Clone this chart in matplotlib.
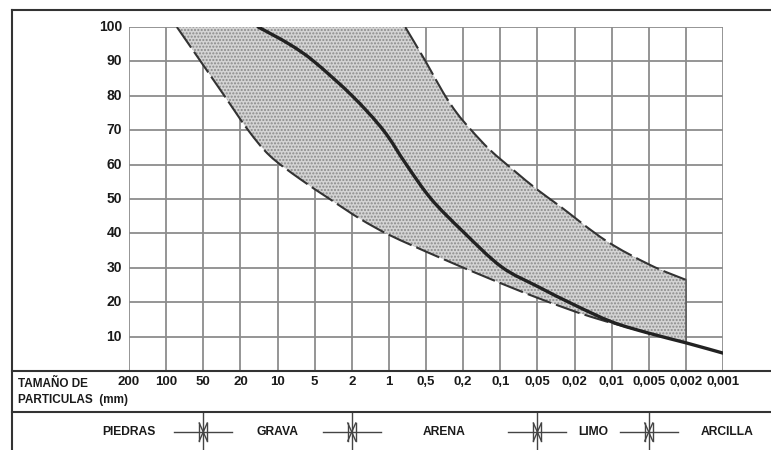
import numpy as np
import matplotlib.pyplot as plt
import matplotlib.transforms as mtransforms
from matplotlib.lines import Line2D
from matplotlib.patches import PathPatch
from matplotlib.path import Path

# particle sizes (mm), one per vertical grid line
size_labels = ['200', '100', '50', '20', '10', '5', '2', '1', '0,5', '0,2', '0,1',
               '0,05', '0,02', '0,01', '0,005', '0,002', '0,001']
pct_ticks = [10, 20, 30, 40, 50, 60, 70, 80, 90, 100]

# curves as (position on size scale, % passing)
mid_x = [3.48, 4.32, 4.98, 6.01, 6.85, 7.47, 8.14, 9.0, 10.03, 11.02, 12.0, 13.0, 14.0, 15.0, 16.0]
mid_y = [100, 95, 90, 80, 70, 60, 50, 40.5, 30.3, 24.5, 19.2, 14.3, 11.0, 8.2, 5.2]

upper_x = [7.44, 7.99, 8.46, 8.83, 9.22, 9.73, 10.4, 11.0, 11.62, 12.83, 14.04, 15.0]
upper_y = [100, 90, 81, 75, 70, 64.2, 58, 52.7, 47.8, 38, 30.8, 26.5]

lower_x = [1.29, 1.93, 2.57, 3.21, 3.8, 4.61, 5.42, 6.23, 7.04, 8.3, 9.68, 11.02, 12.43, 14.0]
lower_y = [100, 90, 80, 70, 62.5, 55.8, 49.9, 44.2, 39.4, 33.3, 27.0, 21.2, 15.8, 11.0]

soil_names = ['PIEDRAS', 'GRAVA', 'ARENA', 'LIMO', 'ARCILLA']
soil_label_x = [0.0, 4.0, 8.5, 12.5, 16.1]
soil_bounds = [2, 6, 11, 14]


def bezier_through(xs, ys):
    # Catmull-Rom style cubic segments through the given points
    p = np.column_stack([xs, ys]).astype(float)
    n = len(p)
    verts, codes = [], []
    for i in range(n - 1):
        p0 = p[max(i - 1, 0)]
        p1, p2 = p[i], p[i + 1]
        p3 = p[min(i + 2, n - 1)]
        c1 = p1 + (p2 - p0) / 6.0
        c2 = p2 - (p3 - p1) / 6.0
        verts += [c1, c2, p2]
        codes += [Path.CURVE4] * 3
    return p[0], verts, codes


def curve_path(xs, ys):
    start, v, c = bezier_through(xs, ys)
    return Path([start] + v, [Path.MOVETO] + c)


W, H = 771, 450
fig = plt.figure(figsize=(W / 100, H / 100), dpi=100)
fig.patch.set_facecolor('white')

def fy(py):
    return 1 - py / H

def fx(px):
    return px / W

ax = fig.add_axes([fx(129), fy(371), fx(723) - fx(129), fy(27) - fy(371)])
ax.set_xlim(0, 16)
ax.set_ylim(0, 100)
ax.axis('off')

grid_kw = dict(color='#8c8c8c', lw=1.3, zorder=1)
for k in range(len(size_labels)):
    ax.plot([k, k], [0, 100], **grid_kw)
for p in pct_ticks:
    ax.plot([0, 16], [p, p], **grid_kw)

# shaded band: upper envelope, vertical cut at 0,002, back along middle curve, lower envelope
i14 = mid_x.index(14.0)
i15 = mid_x.index(15.0)
s, v1, c1 = bezier_through(upper_x, upper_y)
verts = [s] + v1
codes = [Path.MOVETO] + c1
verts.append((mid_x[i15], mid_y[i15]))
codes.append(Path.LINETO)
verts.append((mid_x[i14], mid_y[i14]))
codes.append(Path.LINETO)
s, v2, c2 = bezier_through(lower_x[::-1], lower_y[::-1])
verts += v2
codes += c2
verts.append(verts[0])
codes.append(Path.CLOSEPOLY)
band = PathPatch(Path(verts, codes), facecolor='#d4d4d4', edgecolor='#8a8a8a',
                 hatch='.....', lw=0, zorder=2)
ax.add_patch(band)

dash_kw = dict(facecolor='none', edgecolor='#333333', lw=1.5,
               linestyle=(0, (12, 2.5)), zorder=3)
ax.add_patch(PathPatch(curve_path(upper_x, upper_y), **dash_kw))
ax.add_patch(PathPatch(curve_path(lower_x, lower_y), **dash_kw))
ax.plot([upper_x[-1], upper_x[-1]], [upper_y[-1], mid_y[i15]], color='#555555', lw=1.1, zorder=3)
ax.add_patch(PathPatch(curve_path(mid_x, mid_y), facecolor='none', edgecolor='#222222',
                       lw=2.4, capstyle='round', zorder=4))

font = dict(family=['Liberation Sans', 'DejaVu Sans'], fontweight='bold', color='#1a1a1a')

for p in pct_ticks:
    ax.text(-0.19, p, str(p), ha='right', va='center', fontsize=10, **font)

# frame and separator lines
line_kw = dict(color='#333333', lw=1.5, transform=fig.transFigure)
fig.add_artist(Line2D([fx(12), 1], [fy(10), fy(10)], **line_kw))
fig.add_artist(Line2D([fx(12), fx(12)], [fy(10), 0], **line_kw))
fig.add_artist(Line2D([fx(12), 1], [fy(371), fy(371)], **line_kw))
fig.add_artist(Line2D([fx(12), 1], [fy(412), fy(412)], **line_kw))

trans = mtransforms.blended_transform_factory(ax.transData, fig.transFigure)

for k, lab in enumerate(size_labels):
    ax.text(k, fy(382), lab, ha='center', va='center', fontsize=9.5,
            transform=trans, **font)

fig.text(fx(18), fy(384), 'TAMAÑO DE', ha='left', va='center', fontsize=8.5, **font)
fig.text(fx(18), fy(400), 'PARTICULAS  (mm)', ha='left', va='center', fontsize=8.5, **font)

ly = fy(432)
for name, xpos in zip(soil_names, soil_label_x):
    ax.text(xpos, ly, name, ha='center', va='center', fontsize=8.7, transform=trans, **font)

sym_kw = dict(color='#444444', lw=1.0, transform=trans, clip_on=False)
dk = 4 / 37.1
for b in soil_bounds:
    ax.plot([b, b], [fy(412), 0], **sym_kw)
    ax.plot([b - 29 / 37.1, b + 29 / 37.1], [ly, ly], **sym_kw)
    top, bot = fy(423), fy(441)
    ax.plot([b - dk, b - dk], [bot, top], **sym_kw)
    ax.plot([b + dk, b + dk], [bot, top], **sym_kw)
    ax.plot([b - dk, b + dk], [top, bot], **sym_kw)
    ax.plot([b - dk, b + dk], [bot, top], **sym_kw)

plt.savefig('out.png', dpi=100)
